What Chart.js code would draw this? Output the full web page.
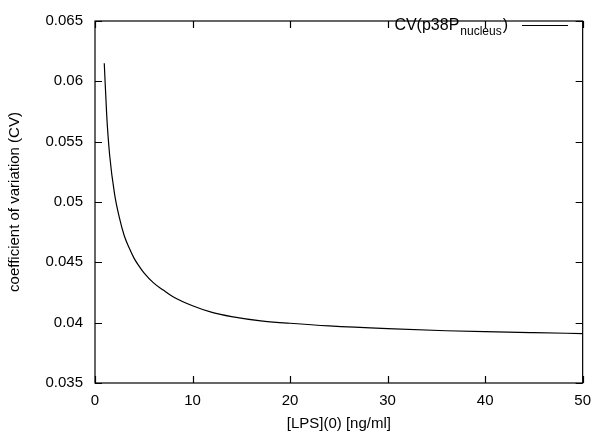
<!DOCTYPE html>
<html>
<head>
<meta charset="utf-8">
<script src="https://cdn.jsdelivr.net/npm/chart.js@4"></script>
<style>
  body { margin: 0; background: #fff; }
  canvas { display: block; }
</style>
</head>
<body>
<canvas id="chart" width="600" height="433"></canvas>
<script>
// LPS concentration (x) and coefficient of variation
const lpsValues = [0.95, 1.2, 1.5, 2, 2.5, 3, 3.5, 4, 4.5, 5, 6, 7, 8, 10, 12, 14, 17, 20, 24, 30, 36, 40, 45, 50];
const cvValues = [0.0615, 0.0572, 0.0539, 0.0507, 0.0487, 0.0472, 0.0462, 0.04535, 0.0447, 0.04415, 0.0433,
  0.0427, 0.04215, 0.0414, 0.04085, 0.0405, 0.04015, 0.03995, 0.03973, 0.0395, 0.03933, 0.03925, 0.03917, 0.0391];

const xTicks = [0, 10, 20, 30, 40, 50];
const yTicks = [0.035, 0.04, 0.045, 0.05, 0.055, 0.06, 0.065];
const yTickLabels = ['0.035', '0.04', '0.045', '0.05', '0.055', '0.06', '0.065'];

const FONT = '"Liberation Sans", Arial, Helvetica, sans-serif';

// gnuplot style frame with inward ticks on all sides
const framePlugin = {
  id: 'frame',
  afterDraw(chart) {
    const { ctx, chartArea: a, scales } = chart;
    ctx.save();
    ctx.strokeStyle = '#000';
    ctx.lineWidth = 1.2;
    ctx.strokeRect(a.left, a.top, a.right - a.left, a.bottom - a.top);
    const len = 7;
    ctx.beginPath();
    xTicks.forEach(v => {
      const px = Math.round(scales.x.getPixelForValue(v)) + 0.5;
      ctx.moveTo(px, a.bottom); ctx.lineTo(px, a.bottom - len);
      ctx.moveTo(px, a.top); ctx.lineTo(px, a.top + len);
    });
    yTicks.forEach(v => {
      const py = Math.round(scales.y.getPixelForValue(v)) + 0.5;
      ctx.moveTo(a.left, py); ctx.lineTo(a.left + len, py);
      ctx.moveTo(a.right, py); ctx.lineTo(a.right - len, py);
    });
    ctx.stroke();
    ctx.restore();
  }
};

// key in the top right corner, with subscript
const keyPlugin = {
  id: 'key',
  afterDraw(chart) {
    const { ctx } = chart;
    ctx.save();
    ctx.fillStyle = '#000';
    const main = 'CV(p38P';
    const sub = 'nucleus';
    const close = ')';
    ctx.font = '16px ' + FONT;
    const wMain = ctx.measureText(main).width;
    const wClose = ctx.measureText(close).width;
    ctx.font = '12px ' + FONT;
    const wSub = ctx.measureText(sub).width;
    const right = 508;
    let x = right - (wMain + wSub + wClose + 2);
    ctx.textBaseline = 'alphabetic';
    ctx.font = '16px ' + FONT;
    ctx.fillText(main, x, 30);
    x += wMain + 1;
    ctx.font = '12px ' + FONT;
    ctx.fillText(sub, x, 35);
    x += wSub + 1;
    ctx.font = '16px ' + FONT;
    ctx.fillText(close, x, 30);
    ctx.strokeStyle = '#000';
    ctx.lineWidth = 1;
    ctx.beginPath();
    ctx.moveTo(522, 25.5);
    ctx.lineTo(568, 25.5);
    ctx.stroke();
    ctx.restore();
  }
};

const points = lpsValues.map((v, i) => ({ x: v, y: cvValues[i] }));

new Chart(document.getElementById('chart'), {
  type: 'line',
  data: {
    datasets: [{
      data: points,
      borderColor: '#000',
      borderWidth: 1.2,
      pointRadius: 0,
      cubicInterpolationMode: 'monotone',
      fill: false
    }]
  },
  options: {
    responsive: false,
    animation: false,
    layout: { padding: { top: 9, right: 12, left: 0, bottom: 0 } },
    plugins: { legend: { display: false }, tooltip: { enabled: false } },
    scales: {
      x: {
        type: 'linear',
        min: 0,
        max: 50,
        afterBuildTicks: s => { s.ticks = xTicks.map(v => ({ value: v })); },
        afterFit: s => { s.height = 50; },
        grid: { display: false, drawTicks: false },
        border: { display: false },
        ticks: { color: '#000', font: { family: FONT, size: 15 }, padding: 9, maxRotation: 0 },
        title: { display: true, text: '[LPS](0) [ng/ml]', color: '#000', font: { family: FONT, size: 15 }, padding: { top: 4, bottom: 0 } }
      },
      y: {
        min: 0.035,
        max: 0.065,
        afterBuildTicks: s => { s.ticks = yTicks.map(v => ({ value: v })); },
        afterFit: s => { s.width = 95; },
        grid: { display: false, drawTicks: false },
        border: { display: false },
        ticks: {
          color: '#000',
          font: { family: FONT, size: 15 },
          padding: 12,
          callback: (v) => {
            const i = yTicks.findIndex(t => Math.abs(t - v) < 1e-9);
            return i >= 0 ? yTickLabels[i] : '';
          }
        },
        title: { display: true, text: 'coefficient of variation (CV)', color: '#000', font: { family: FONT, size: 15 }, padding: { top: 6, bottom: 0 } }
      }
    }
  },
  plugins: [framePlugin, keyPlugin]
});
</script>
</body>
</html>
